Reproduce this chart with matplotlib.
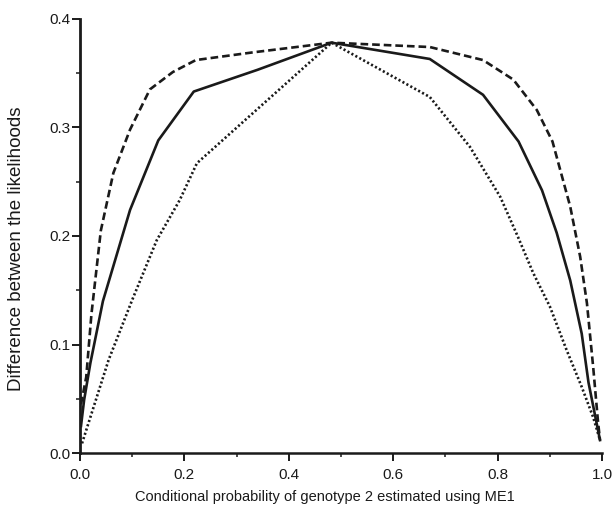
import matplotlib
matplotlib.use("Agg")
import matplotlib.pyplot as plt
from matplotlib.ticker import MultipleLocator

plt.rcParams['font.family'] = ['Liberation Sans', 'DejaVu Sans']

# curves
solid_x = [0.002, 0.008, 0.02, 0.044, 0.096, 0.15, 0.218, 0.34, 0.482,
           0.67, 0.772, 0.84, 0.885, 0.913, 0.939, 0.961, 0.974, 0.996]
solid_y = [0.025, 0.049, 0.083, 0.140, 0.224, 0.288, 0.333, 0.353, 0.378,
           0.363, 0.330, 0.287, 0.242, 0.203, 0.159, 0.110, 0.065, 0.012]

dashed_x = [0.002, 0.012, 0.022, 0.040, 0.064, 0.096, 0.134, 0.178, 0.222,
            0.33, 0.482, 0.67, 0.772, 0.83, 0.875, 0.905, 0.939, 0.958,
            0.971, 0.983, 0.992, 0.996]
dashed_y = [0.045, 0.070, 0.128, 0.205, 0.258, 0.298, 0.335, 0.351, 0.362,
            0.369, 0.378, 0.374, 0.362, 0.344, 0.316, 0.287, 0.227, 0.181,
            0.138, 0.079, 0.030, 0.012]

dotted_x = [0.004, 0.055, 0.10, 0.147, 0.191, 0.224, 0.482, 0.67, 0.747,
            0.805, 0.839, 0.868, 0.90, 0.932, 0.961, 0.983, 0.996]
dotted_y = [0.009, 0.086, 0.141, 0.196, 0.233, 0.267, 0.378, 0.328, 0.282,
            0.236, 0.199, 0.166, 0.135, 0.095, 0.061, 0.033, 0.012]

xticks = [0.0, 0.2, 0.4, 0.6, 0.8, 1.0]
yticks = [0.0, 0.1, 0.2, 0.3, 0.4]

ink = '#1a1a1a'

fig = plt.figure(figsize=(6.15, 5.08), dpi=100)
ax = fig.add_axes([0.130, 0.108, 0.849, 0.855])

ax.plot(solid_x, solid_y, color=ink, lw=1.9)
ax.plot(dashed_x, dashed_y, color=ink, lw=1.9, dashes=(2.9, 1.5))
ax.plot(dotted_x, dotted_y, color=ink, lw=1.9, dashes=(0.8, 0.9))

ax.set_xlim(0, 1.0)
ax.set_ylim(0, 0.4)
ax.set_xticks(xticks)
ax.set_yticks(yticks)
ax.set_xticklabels(['%.1f' % v for v in xticks])
ax.set_yticklabels(['%.1f' % v for v in yticks])
ax.xaxis.set_minor_locator(MultipleLocator(0.1))
ax.yaxis.set_minor_locator(MultipleLocator(0.05))

for s in ['top', 'right']:
    ax.spines[s].set_visible(False)
ax.spines['left'].set_linewidth(2.0)
ax.spines['bottom'].set_linewidth(1.8)
ax.spines['left'].set_color(ink)
ax.spines['bottom'].set_color(ink)

ax.tick_params(which='major', direction='out', length=5.5, width=1.4,
               labelsize=11, colors=ink)
ax.tick_params(axis='y', which='major', pad=1.5)
ax.tick_params(axis='x', which='major', pad=5)
ax.tick_params(which='minor', direction='out', length=3, width=1.1,
               colors=ink)

ax.set_xlabel('Conditional probability of genotype 2 estimated using ME1',
              fontsize=10.5, color=ink)
ax.set_ylabel('Difference between the likelihoods', fontsize=13.5, color=ink)
ax.xaxis.set_label_coords(0.47, -0.084)
ax.yaxis.set_label_coords(-0.105, 0.47)

fig.savefig('out.png', dpi=100)
